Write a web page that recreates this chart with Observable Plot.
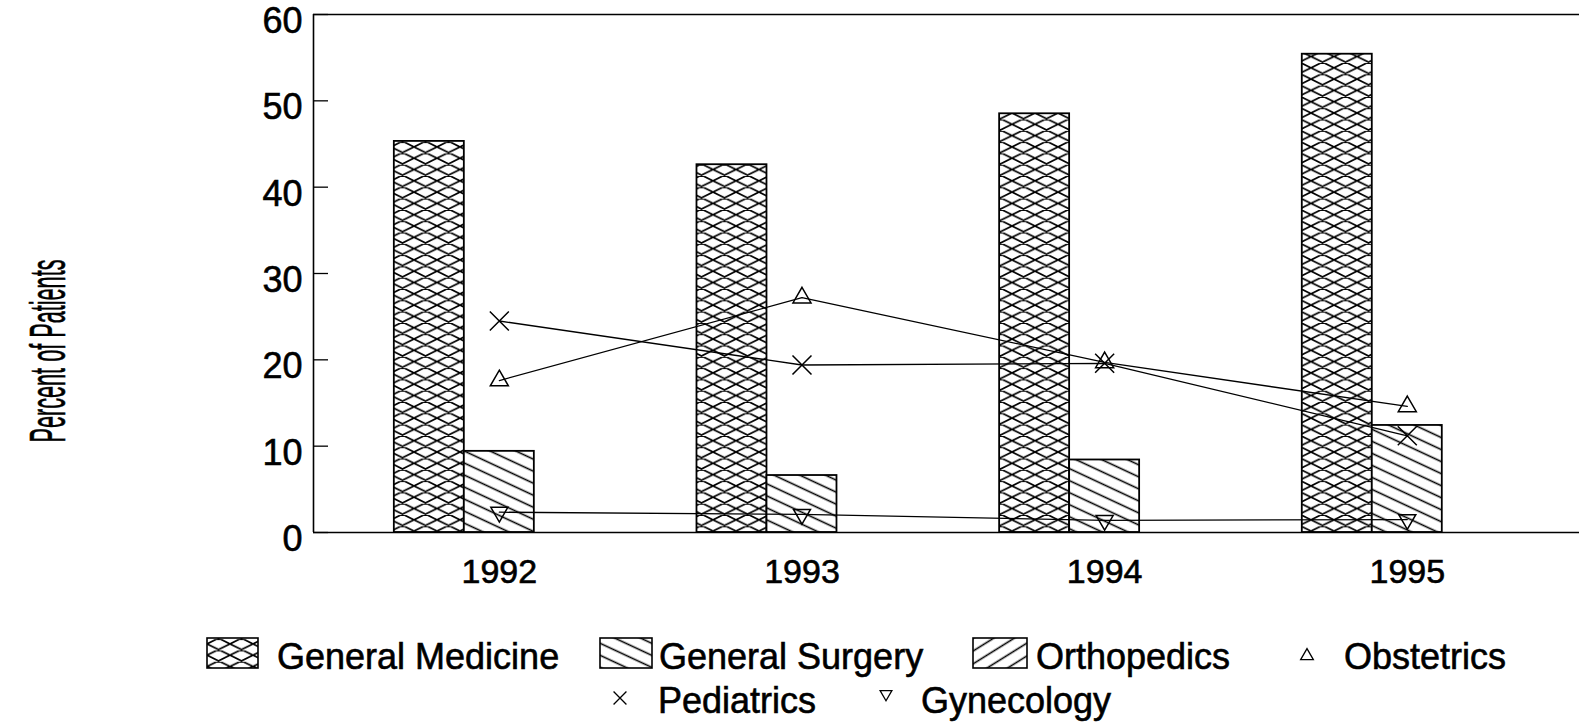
<!DOCTYPE html>
<html><head><meta charset="utf-8">
<script src="https://cdn.jsdelivr.net/npm/d3@7"></script>
<script src="https://cdn.jsdelivr.net/npm/@observablehq/plot@0.6"></script>
<style>
body{margin:0;background:#fff;}
svg{display:block;}
svg text{stroke:black;stroke-width:0.6px;}
</style></head><body><div id="chart"></div>
<script>
// ---- data ----
const years = [1992, 1993, 1994, 1995];
const yearLabels = ["1992", "1993", "1994", "1995"];
const barSeries = ["General Medicine", "General Surgery", "Orthopedics"];
const generalMedicine = [45.3, 42.6, 48.5, 55.4];
const generalSurgery = [9.4, 6.6, 8.4, 12.4];
const orthopedics = [0, 0, 0, 0];
const lineSeries = ["Obstetrics", "Pediatrics", "Gynecology"];
const obstetrics = [17.6, 27.2, 19.7, 14.6];
const pediatrics = [24.5, 19.4, 19.6, 11.2];
const gynecology = [2.35, 2.1, 1.4, 1.5];
const yTicks = [0, 10, 20, 30, 40, 50, 60];
const yTitle = "Percent of Patients";

// ---- tables built from the arrays ----
const barValues = [generalMedicine, generalSurgery, orthopedics];
const bars = [];
barSeries.forEach((s, i) => years.forEach((yr, j) => bars.push({series: s, slot: i - 1, year: yr, value: barValues[i][j]})));
const lineValues = [obstetrics, pediatrics, gynecology];
const lineTables = lineValues.map((vals, i) => years.map((yr, j) => ({series: lineSeries[i], year: yr, value: vals[j]})));

// ---- styling ----
const FONT = "'Liberation Sans', Arial, Helvetica, sans-serif";
const xDomain = [1991.386, 1995.569];
const pxPerYear = 1266 / (xDomain[1] - xDomain[0]);
const W = 70 / pxPerYear; // bar width in year units
const patternIds = ["url(#patGM)", "url(#patGS)", "url(#patOR)"];

const sqrt3 = Math.sqrt(3);
const triangleDown = {
  draw(context, size) {
    const y = -Math.sqrt(size / (sqrt3 * 3));
    context.moveTo(0, -y * 2);
    context.lineTo(-sqrt3 * y, y);
    context.lineTo(sqrt3 * y, y);
    context.closePath();
  }
};
const symbols = ["triangle", "times", triangleDown];
const symbolR = [6.7, 8.7, 6.3];

const x0 = xDomain[0];
const plot = Plot.plot({
  width: 1579,
  height: 610,
  marginLeft: 313,
  marginRight: 0,
  marginTop: 14,
  marginBottom: 78,
  style: {fontFamily: FONT, color: "black", background: "white", overflow: "visible"},
  x: {domain: xDomain},
  y: {domain: [0, 60]},
  marks: [
    ...barSeries.map((s, i) => Plot.rect(bars.filter(d => d.series === s), {
      x1: d => d.year + (d.slot - 0.5) * W,
      x2: d => d.year + (d.slot + 0.5) * W,
      y1: d => 0,
      y2: "value",
      fill: patternIds[i],
      stroke: "black",
      strokeWidth: 1.8
    })),
    Plot.ruleY([0, 60], {stroke: "black", strokeWidth: 1.6}),
    Plot.ruleX([x0], {y1: 0, y2: 60, stroke: "black", strokeWidth: 1.6}),
    Plot.ruleY(yTicks, {y: d => d, x1: d => x0, x2: d => x0 + 15 / pxPerYear, stroke: "black", strokeWidth: 1.3}),
    Plot.axisY({ticks: yTicks, tickSize: 0, tickPadding: 11, fontSize: 36, dy: 7, label: null}),
    Plot.axisX({ticks: years, tickSize: 0, tickPadding: 26, fontSize: 34, tickFormat: d => yearLabels[years.indexOf(d)], label: null}),
    ...lineTables.map(t => Plot.line(t, {x: "year", y: "value", stroke: "black", strokeWidth: 1.3})),
    ...lineTables.map((t, i) => Plot.dot(t, {x: "year", y: "value", symbol: symbols[i], r: symbolR[i], stroke: "black", strokeWidth: 1.5, fill: "none"}))
  ]
});

// pattern definitions
function diagLines(w, h) {
  let p = "";
  for (const c of [-h, 0, h]) {
    p += `M${-w},${-h + c}L${2 * w},${2 * h + c}`;
    p += `M${-w},${2 * h + c}L${2 * w},${-h + c}`;
  }
  return p;
}
const defs = `<defs>
<pattern id="patGM" patternUnits="userSpaceOnUse" width="23" height="11.3">
<rect width="23" height="11.3" fill="white"/>
<path d="${diagLines(23, 11.3)}" stroke="black" stroke-width="1.7" fill="none"/>
</pattern>
<pattern id="patGS" patternUnits="userSpaceOnUse" width="12" height="10.9" patternTransform="rotate(25)">
<rect width="12" height="10.9" fill="white"/>
<path d="M-1,5.45H13" stroke="black" stroke-width="1.6"/>
</pattern>
<pattern id="patOR" patternUnits="userSpaceOnUse" width="12" height="10.9" patternTransform="rotate(-32)">
<rect width="12" height="10.9" fill="white"/>
<path d="M-1,5.45H13" stroke="black" stroke-width="1.6"/>
</pattern>
</defs>`;
plot.insertAdjacentHTML("afterbegin", defs);

// y axis title (condensed, rotated)
d3.select(plot).append("text")
  .attr("transform", "translate(65,351) rotate(-90)")
  .attr("text-anchor", "middle")
  .attr("font-family", FONT)
  .attr("font-size", 50)
  .attr("textLength", 183)
  .attr("lengthAdjust", "spacingAndGlyphs")
  .attr("fill", "black")
  .text(yTitle);

document.getElementById("chart").append(plot);

// ---- legend ----
const legend = d3.create("svg").attr("width", 1579).attr("height", 115)
  .style("font-family", FONT).style("background", "white");
const swatches = [
  {x: 207, w: 51, tx: 277},
  {x: 600, w: 52, tx: 659},
  {x: 973, w: 54, tx: 1036}
];
barSeries.forEach((s, i) => {
  const sw = swatches[i];
  legend.append("rect").attr("x", sw.x).attr("y", 28).attr("width", sw.w).attr("height", 30)
    .attr("fill", patternIds[i]).attr("stroke", "black").attr("stroke-width", 1.6);
  legend.append("text").attr("x", sw.tx).attr("y", 59).attr("font-size", 36).attr("fill", "black").text(s);
});
const symItems = [
  {cx: 1307, cy: 46, size: 70, tx: 1344, ty: 59},
  {cx: 620, cy: 88, size: 110, tx: 658, ty: 103},
  {cx: 886, cy: 84, size: 60, tx: 921, ty: 103}
];
const d3symbols = [d3.symbolTriangle, d3.symbolTimes, triangleDown];
lineSeries.forEach((s, i) => {
  const it = symItems[i];
  legend.append("path").attr("transform", `translate(${it.cx},${it.cy})`)
    .attr("d", d3.symbol(d3symbols[i], it.size)())
    .attr("fill", "none").attr("stroke", "black").attr("stroke-width", 1.3);
  legend.append("text").attr("x", it.tx).attr("y", it.ty).attr("font-size", 36).attr("fill", "black").text(s);
});
document.getElementById("chart").append(legend.node());
</script>
</body></html>
